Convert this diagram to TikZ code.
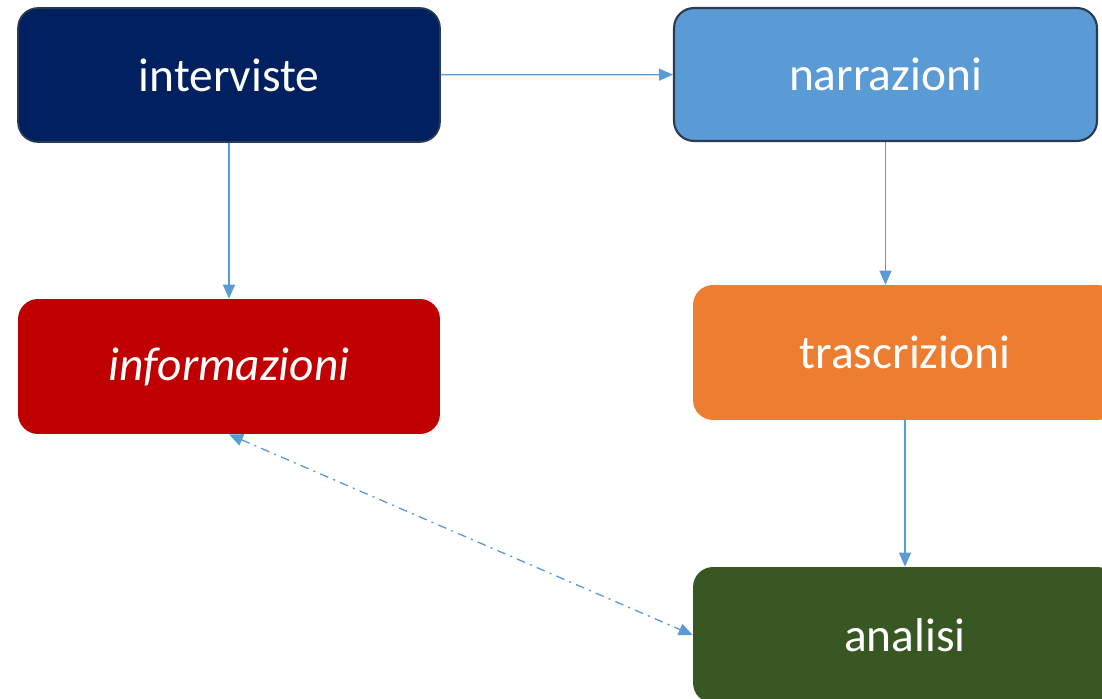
\documentclass[tikz,border=0pt]{standalone}
\usepackage{fontspec}
\setmainfont{Carlito}
\usetikzlibrary{arrows.meta}
\definecolor{navy}{HTML}{002060}
\definecolor{sky}{HTML}{5B9BD5}
\definecolor{crimson}{HTML}{C00000}
\definecolor{carrot}{HTML}{ED7D31}
\definecolor{moss}{HTML}{385723}
\definecolor{edge}{HTML}{2A3A50}
\begin{document}
\begin{tikzpicture}[x = 0.02cm, y = -0.02cm,
    box/.style = {rectangle, rounded corners = 0.4cm, text = white, font = \fontsize{27}{32}\selectfont, inner sep = 0pt},
    link/.style = {sky, line width = 0.75pt, -{Triangle[length = 0.28cm, width = 0.24cm]}}]
    \useasboundingbox (0,0) rectangle (1102,699);
    \node[box, fill = navy, draw = edge, line width = 1pt, minimum width = 8.44cm, minimum height = 2.68cm] (int) at (229,75) {interviste};
    \node[box, fill = sky, draw = edge, line width = 1.2pt, minimum width = 8.46cm, minimum height = 2.66cm] (nar) at (885.5,74.5) {narrazioni};
    \node[box, fill = crimson, minimum width = 8.44cm, minimum height = 2.7cm] (inf) at (229,366.5) {\itshape informazioni};
    \node[box, fill = carrot, minimum width = 8.48cm, minimum height = 2.7cm] (tra) at (905,352.5) {trascrizioni};
    \node[box, fill = moss, minimum width = 8.48cm, minimum height = 2.72cm] (ana) at (905,635) {analisi};
    \draw[link] (int) -- (nar);
    \draw[link] (int) -- (inf);
    \draw[link] (nar) -- (nar |- tra.north);
    \draw[link] (tra) -- (ana);
    % dash-dot link
    \draw[link, {Triangle[length = 0.28cm, width = 0.24cm]}-{Triangle[length = 0.28cm, width = 0.24cm]}, dash pattern = on 5pt off 3pt on 1.2pt off 3pt] (inf.south) -- (ana.west);
\end{tikzpicture}
\end{document}
